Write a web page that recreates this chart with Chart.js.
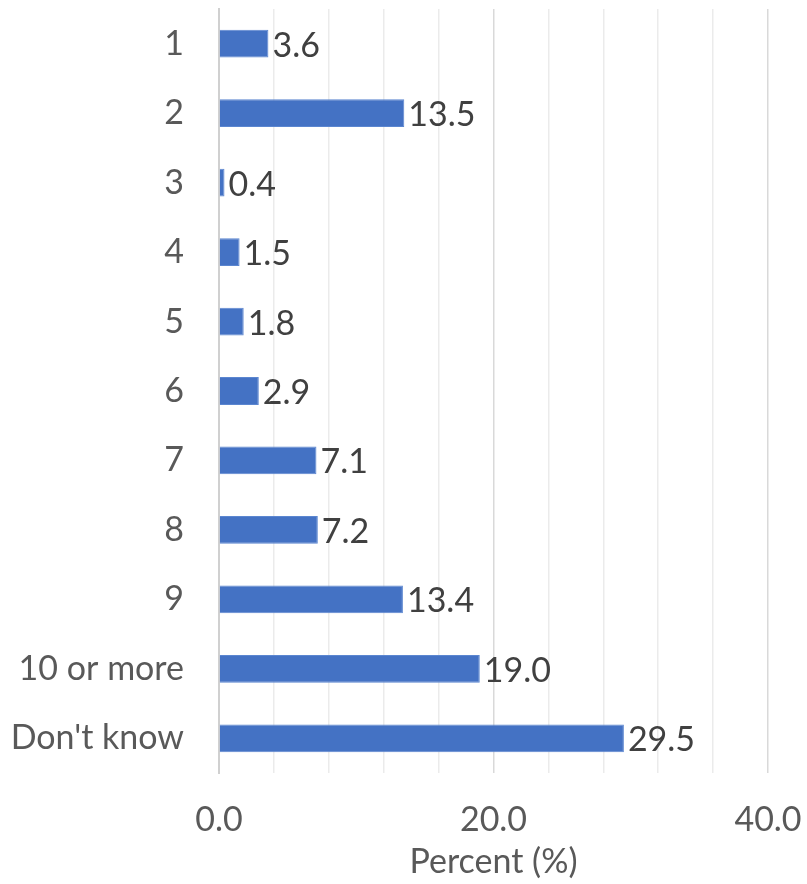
<!DOCTYPE html>
<html>
<head>
<meta charset="utf-8">
<script src="https://cdn.jsdelivr.net/npm/chart.js@4"></script>
<style>
  html, body { margin: 0; padding: 0; background: #fff; }
  #wrap { width: 807px; height: 884px; }
</style>
</head>
<body>
<div id="wrap"><canvas id="grafico"></canvas></div>
<script>
const categories = ["1", "2", "3", "4", "5", "6", "7", "8", "9", "10 or more", "Don't know"];
const percentValues = [3.6, 13.5, 0.4, 1.5, 1.8, 2.9, 7.1, 7.2, 13.4, 19.0, 29.5];
const axisTitle = "Percent (%)";
const labeledTicks = [0, 20, 40];

const FONT = "Lato, 'Open Sans', sans-serif";

// etiquetas de valor al final de cada barra
const valueLabels = {
  id: "valueLabels",
  afterDatasetsDraw(chart) {
    const ctx = chart.ctx;
    const meta = chart.getDatasetMeta(0);
    ctx.save();
    ctx.font = "34px " + FONT;
    ctx.fillStyle = "#404040";
    ctx.textAlign = "left";
    ctx.textBaseline = "middle";
    meta.data.forEach((bar, i) => {
      ctx.fillText(percentValues[i].toFixed(1), bar.x + 4, bar.y + 2);
    });
    ctx.restore();
  }
};

const ctx = document.getElementById("grafico").getContext("2d");
new Chart(ctx, {
  type: "bar",
  data: {
    labels: categories,
    datasets: [{
      label: "Percent",
      data: percentValues,
      backgroundColor: "#4472c4",
      borderColor: "#5b86d0",
      borderWidth: 1,
      barPercentage: 0.4,
      categoryPercentage: 1
    }]
  },
  options: {
    indexAxis: "y",
    responsive: true,
    maintainAspectRatio: false,
    animation: false,
    layout: { padding: { top: 9, right: 39, left: 0, bottom: 0 } },
    plugins: {
      legend: { display: false },
      tooltip: { enabled: false }
    },
    scales: {
      x: {
        min: 0,
        max: 40,
        afterFit: (s) => { s.height = 111; s.paddingLeft = 0; s.paddingRight = 0; },
        ticks: {
          stepSize: 4,
          autoSkip: false,
          maxRotation: 0,
          padding: 27,
          color: "#595959",
          font: { family: FONT, size: 34 },
          callback: (v) => labeledTicks.includes(v) ? v.toFixed(1) : ""
        },
        grid: {
          drawTicks: false,
          color: (c) => (c.tick && c.tick.value % 20 === 0) ? "#d9d9d9" : "#ebebeb",
          lineWidth: 1.5
        },
        border: { display: false },
        title: {
          display: true,
          text: axisTitle,
          color: "#595959",
          font: { family: FONT, size: 34 },
          padding: { top: 0, bottom: 2 }
        }
      },
      y: {
        afterFit: (s) => { s.width = 219; s.paddingTop = 0; s.paddingBottom = 0; },
        ticks: {
          padding: 35,
          color: "#595959",
          font: { family: FONT, size: 34 }
        },
        grid: { display: false, drawTicks: false },
        border: { display: true, color: "#d0d0d0", width: 2 }
      }
    }
  },
  plugins: [valueLabels]
});
</script>
</body>
</html>
